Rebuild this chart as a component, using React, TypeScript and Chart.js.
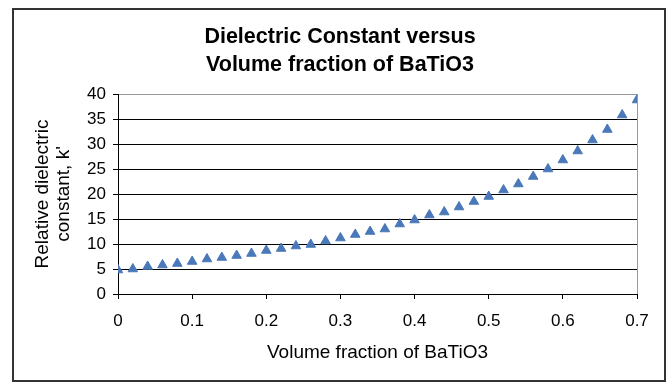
import React, { useEffect, useRef } from "react";
import { Chart, registerables } from "chart.js";

Chart.register(...registerables);

const titleLines = ["Dielectric Constant versus", "Volume fraction of BaTiO3"];
const xAxisTitle = "Volume fraction of BaTiO3";
const yAxisTitle = ["Relative dielectric", "constant, k'"];

const volumeFraction = [
  0.0, 0.02, 0.04, 0.06, 0.08, 0.1, 0.12, 0.14, 0.16, 0.18, 0.2, 0.22,
  0.24, 0.26, 0.28, 0.3, 0.32, 0.34, 0.36, 0.38, 0.4, 0.42, 0.44, 0.46,
  0.48, 0.5, 0.52, 0.54, 0.56, 0.58, 0.6, 0.62, 0.64, 0.66, 0.68, 0.7,
];
const dielectricConstant = [
  4.8, 5.0, 5.5, 5.8, 6.1, 6.5, 7.0, 7.3, 7.7, 8.1, 8.7, 9.1,
  9.6, 9.9, 10.6, 11.2, 11.9, 12.5, 13.0, 14.0, 14.8, 15.8, 16.4, 17.4,
  18.5, 19.5, 20.8, 22.0, 23.5, 25.0, 26.8, 28.6, 30.8, 32.9, 35.8, 38.8,
];
const xTickLabels = ["0", "0.1", "0.2", "0.3", "0.4", "0.5", "0.6", "0.7"];
const yTickLabels = ["0", "5", "10", "15", "20", "25", "30", "35", "40"];

const FONT = "'Liberation Sans', Arial, sans-serif";

const frameAndTitle = {
  id: "frameAndTitle",
  beforeDraw(chart: any) {
    const { ctx } = chart;
    ctx.save();
    ctx.fillStyle = "#ffffff";
    ctx.fillRect(0, 0, chart.width, chart.height);
    ctx.strokeStyle = "#333333";
    ctx.lineWidth = 2;
    ctx.strokeRect(13, 9, 652, 372);
    ctx.fillStyle = "#000";
    ctx.font = `bold 21.5px ${FONT}`;
    ctx.textAlign = "center";
    ctx.textBaseline = "middle";
    titleLines.forEach((line, i) => {
      ctx.fillText(line, 340, 37 + i * 28.5);
    });
    ctx.restore();
  },
};

export default function App() {
  const canvasRef = useRef<HTMLCanvasElement | null>(null);

  useEffect(() => {
    document.body.style.margin = "0";
    const canvas = canvasRef.current;
    if (!canvas) return;
    const chart = new Chart(canvas, {
      type: "scatter",
      data: {
        datasets: [
          {
            data: volumeFraction.map((x, i) => ({ x, y: dielectricConstant[i] })),
            pointStyle: "triangle",
            pointRadius: 5.5,
            backgroundColor: "#4a78b8",
            borderColor: "#4a78b8",
            borderWidth: 1,
          },
        ],
      },
      options: {
        responsive: false,
        animation: false,
        layout: { padding: { left: 14, right: 34, top: 94, bottom: 0 } },
        plugins: {
          legend: { display: false },
          tooltip: { enabled: false },
          title: { display: false },
        },
        scales: {
          x: {
            type: "linear",
            min: 0,
            max: 0.7,
            afterFit: (s: any) => {
              s.height = 89;
            },
            ticks: {
              stepSize: 0.1,
              color: "#000",
              padding: 12,
              font: { family: FONT, size: 17 },
              callback: (_v: any, i: number) => xTickLabels[i],
            },
            grid: {
              drawOnChartArea: true,
              color: (c: any) => (c.index === xTickLabels.length - 1 ? "#9a9a9a" : "rgba(0,0,0,0)"),
              tickColor: "#000",
              tickLength: 5,
            },
            border: { display: true, color: "#000", width: 1 },
            title: {
              display: true,
              text: xAxisTitle,
              color: "#000",
              font: { family: FONT, size: 19 },
              padding: { top: 0, bottom: 19 },
            },
          },
          y: {
            type: "linear",
            min: 0,
            max: 40,
            afterFit: (s: any) => {
              s.width = 104;
            },
            ticks: {
              stepSize: 5,
              color: "#000",
              padding: 7,
              font: { family: FONT, size: 17 },
              callback: (_v: any, i: number) => yTickLabels[i],
            },
            grid: {
              color: (c: any) => (c.index === yTickLabels.length - 1 ? "#9a9a9a" : "#000"),
              tickColor: "#000",
              tickLength: 5,
            },
            border: { display: true, color: "#000", width: 1 },
            title: {
              display: true,
              text: yAxisTitle,
              color: "#000",
              font: { family: FONT, size: 19, lineHeight: 1.13 },
              padding: { top: 18, bottom: 0 },
            },
          },
        },
      },
      plugins: [frameAndTitle],
    });
    return () => chart.destroy();
  }, []);

  return (
    <div style={{ width: 671, height: 383 }}>
      <canvas ref={canvasRef} width={671} height={383} style={{ display: "block" }} />
    </div>
  );
}
